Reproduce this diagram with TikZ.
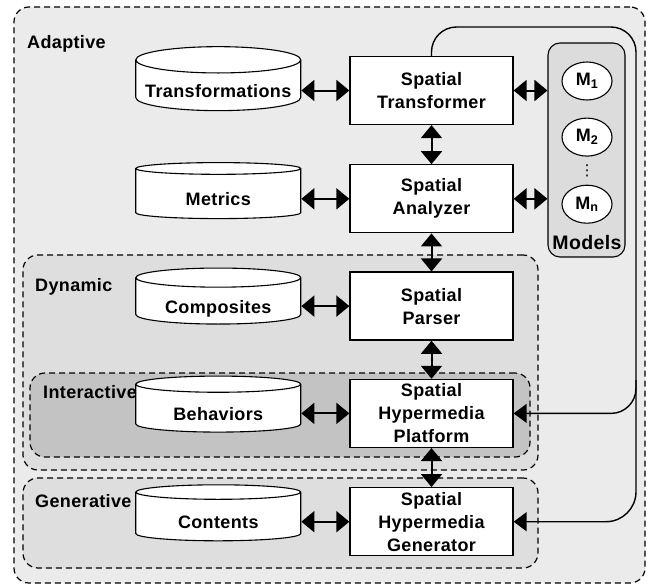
\documentclass[tikz,border=0pt]{standalone}
\usepackage{fontspec}
\setmainfont{Liberation Sans}[LetterSpace=2]
\newfontfamily\spSym{DejaVu Sans}
\usepackage{tikz}
\usetikzlibrary{arrows.meta,positioning,fit,backgrounds,shapes.geometric,calc}
\definecolor{adGray}{HTML}{EBEBEB}
\definecolor{dynGray}{HTML}{DEDEDE}
\definecolor{intGray}{HTML}{C3C3C3}
\definecolor{modGray}{HTML}{DCDCDC}
\newcommand{\spFont}{\bfseries\fontsize{18}{23}\selectfont}
\tikzset{
  spBox/.style={
    draw=black,
    fill=white,
    line width=1.3pt,
    align=center,
    font=\spFont,
    minimum width=163pt,
    minimum height=68pt,
    inner sep=0pt
  },
  spStore/.style={
    cylinder,
    shape border rotate=90,
    aspect=0.18,
    draw=black,
    fill=white,
    line width=1.1pt,
    font=\spFont,
    text height=24pt,
    text depth=0pt,
    minimum width=165pt,
    minimum height=56pt,
    inner sep=0pt
  },
  spModel/.style={
    ellipse,
    draw=black,
    fill=white,
    line width=1.1pt,
    font=\spFont,
    minimum width=50pt,
    minimum height=38pt,
    inner sep=0pt
  },
  spGroup/.style={
    draw=black,
    dash pattern=on 6pt off 4pt,
    line width=1.2pt,
    rounded corners=15pt,
    inner sep=0pt
  },
  spLabel/.style={
    anchor=north west,
    inner sep=0pt,
    font=\spFont
  },
  spArrow/.style={
    {Triangle[length=13pt,width=21pt]}-{Triangle[length=13pt,width=21pt]},
    line width=2pt
  },
  spBus/.style={
    -{Triangle[length=13pt,width=19pt]},
    line width=1.4pt
  }
}

\begin{document}
\begin{tikzpicture}[x=1pt, y=1pt, node distance=38pt and 48pt]
  \useasboundingbox (0,0) rectangle (652,-586);

  % spatial components
  \node[spBox] (trans) at (431.5,-90.5) {Spatial\\Transformer};
  \node[spBox, below=39pt of trans] (anlz) {Spatial\\Analyzer};
  \node[spBox, below=of anlz] (pars) {Spatial\\Parser};
  \node[spBox, below=of pars] (plat) {Spatial\\Hypermedia\\Platform};
  \node[spBox, below=39pt of plat] (gen) {Spatial\\Hypermedia\\Generator};

  % stores
  \node[spStore, left=of trans, yshift=5pt] (transSt) {Transformations};
  \node[spStore, left=of anlz, yshift=5pt] (metSt) {Metrics};
  \node[spStore, left=of pars, yshift=5pt] (compSt) {Composites};
  \node[spStore, left=of plat, yshift=5pt] (behSt) {Behaviors};
  \node[spStore, left=of gen, yshift=5pt] (contSt) {Contents};

  % models
  \node[spModel] (m1) at (587,-81) {M\textsubscript{1}};
  \node[spModel, below=17pt of m1] (m2) {M\textsubscript{2}};
  \node[spModel, below=28pt of m2] (mn) {M\textsubscript{n}};
  \node[font=\spSym\fontsize{15}{15}\selectfont, inner sep=0pt] (mDots)
    at ($(m2.south)!0.5!(mn.north)$) {⋮};
  \node[font=\bfseries\fontsize{19.5}{20}\selectfont, inner sep=0pt] (mLbl) at (587,-243) {Models};
  \coordinate (mTL) at (548,-43);
  \coordinate (mBR) at (625,-257);

  % group frames
  \coordinate (adTL) at (14,-7);
  \coordinate (adBR) at (645,-583);
  \coordinate (dynTL) at (23,-255);
  \coordinate (dynBR) at (538,-470);
  \coordinate (intTL) at (30,-373);
  \coordinate (intBR) at (530,-457);
  \coordinate (genTL) at (23,-478);
  \coordinate (genBR) at (538,-568);
  \begin{scope}[on background layer]
    \node[spGroup, fill=adGray, fit=(adTL)(adBR)] (adGrp) {};
    \node[spGroup, fill=dynGray, fit=(dynTL)(dynBR)] (dynGrp) {};
    \node[spGroup, fill=intGray, fit=(intTL)(intBR)] (intGrp) {};
    \node[spGroup, fill=dynGray, fit=(genTL)(genBR)] (genGrp) {};
    \node[draw=black, fill=modGray, line width=1.1pt, rounded corners=12pt,
      inner sep=0pt, fit=(mTL)(mBR)] (mGrp) {};
  \end{scope}

  \node[spLabel] at (27,-35) {Adaptive};
  \node[spLabel] at (35,-278) {Dynamic};
  \node[spLabel] at (43,-385) {Interactive};
  \node[spLabel] at (35,-494) {Generative};

  % connectors
  \draw[spArrow] (transSt.east |- trans.west) -- (trans.west);
  \draw[spArrow] (metSt.east |- anlz.west) -- (anlz.west);
  \draw[spArrow] (compSt.east |- pars.west) -- (pars.west);
  \draw[spArrow] (behSt.east |- plat.west) -- (plat.west);
  \draw[spArrow] (contSt.east |- gen.west) -- (gen.west);
  \draw[spArrow] (trans.south) -- (anlz.north);
  \draw[spArrow] (anlz.south) -- (pars.north);
  \draw[spArrow] (pars.south) -- (plat.north);
  \draw[spArrow] (plat.south) -- (gen.north);
  \draw[spArrow] (trans.east) -- (trans.east -| mGrp.west);
  \draw[spArrow] (anlz.east) -- (anlz.east -| mGrp.west);

  \coordinate (busTop) at (636,-27);
  \coordinate (busMid) at (636,-380);
  \draw[spBus, rounded corners=25pt] (trans.north) |- (busTop) |- (plat.east);
  \draw[spBus, rounded corners=30pt] (busMid) |- (gen.east);
\end{tikzpicture}
\end{document}
